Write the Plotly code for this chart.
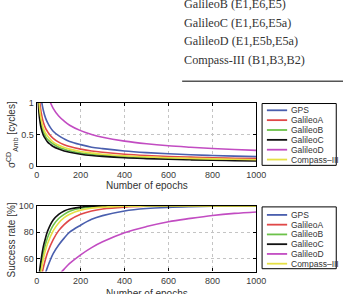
import plotly.graph_objects as go

W, H = 353, 294

names = ["GPS", "GalileoA", "GalileoB", "GalileoC", "GalileoD", "Compass\u2013III"]
colors = ["#4a5fae", "#e04848", "#6cc24a", "#111111", "#c24cc2", "#e6e045"]

# Top panel: ambiguity std (cycles) vs number of epochs
ep_sig = [5, 10, 15, 20, 30, 40, 50, 60, 75, 100, 125, 150, 200, 250, 300, 400, 500, 600, 700, 800, 900, 1000]
sig_gps = [2.15, 1.52, 1.24, 1.07, 0.88, 0.76, 0.68, 0.62, 0.55, 0.48, 0.43, 0.39, 0.34, 0.30, 0.277, 0.24, 0.215, 0.196, 0.181, 0.17, 0.16, 0.152]
sig_ga = [1.70, 1.20, 0.98, 0.85, 0.69, 0.60, 0.54, 0.49, 0.44, 0.38, 0.34, 0.31, 0.27, 0.24, 0.22, 0.19, 0.17, 0.155, 0.144, 0.134, 0.127, 0.12]
sig_gb = [1.34, 0.95, 0.77, 0.67, 0.55, 0.47, 0.42, 0.39, 0.35, 0.30, 0.27, 0.245, 0.21, 0.19, 0.173, 0.15, 0.134, 0.122, 0.113, 0.106, 0.10, 0.095]
sig_gc = [1.21, 0.85, 0.70, 0.60, 0.49, 0.43, 0.38, 0.35, 0.31, 0.27, 0.24, 0.22, 0.19, 0.17, 0.156, 0.135, 0.121, 0.110, 0.102, 0.095, 0.090, 0.085]
sig_gd = [3.53, 2.50, 2.04, 1.77, 1.44, 1.25, 1.12, 1.02, 0.91, 0.79, 0.71, 0.645, 0.56, 0.50, 0.456, 0.395, 0.353, 0.322, 0.299, 0.279, 0.263, 0.25]
sig_c3 = [1.48, 1.04, 0.85, 0.74, 0.60, 0.52, 0.47, 0.43, 0.38, 0.33, 0.295, 0.27, 0.233, 0.21, 0.19, 0.165, 0.148, 0.135, 0.125, 0.117, 0.11, 0.104]

# Bottom panel: success rate (%) vs number of epochs
ep_sr = [10, 15, 20, 30, 40, 50, 75, 100, 125, 150, 200, 250, 300, 400, 500, 600, 700, 800, 900, 1000]
sr_gps = [20, 30, 36, 44, 48.9, 53.8, 63.7, 70.3, 75.5, 80, 85.3, 89.8, 92.6, 96.2, 98, 98.9, 99.4, 99.7, 99.8, 99.9]
sr_ga = [30, 38, 44.4, 52.8, 59.4, 64.8, 74.4, 81.2, 85.8, 89.3, 93.7, 96.2, 97.7, 99.1, 99.7, 99.87, 99.95, 100, 100, 100]
sr_gb = [40, 48.4, 54.4, 63.8, 70.8, 76.2, 85.2, 90.4, 93.6, 95.9, 98.2, 99.1, 99.6, 99.9, 100, 100, 100, 100, 100, 100]
sr_gc = [44.4, 53, 59, 69, 75.5, 81, 89.3, 93.6, 96.2, 97.7, 99.1, 99.7, 99.86, 99.98, 100, 100, 100, 100, 100, 100]
sr_gd = [10, 15, 20, 26, 31, 35, 42, 47.3, 51.9, 56.2, 62.8, 68.3, 72.7, 79.6, 84.3, 88, 90.5, 92.7, 94.3, 95.4]
sr_c3 = [36, 44.4, 50.2, 59.4, 66.2, 71.6, 81, 87, 91, 93.7, 96.8, 98.3, 99.1, 99.76, 99.9, 100, 100, 100, 100, 100]

x_ticks = [0, 200, 400, 600, 800, 1000]
y1_ticks = [0, 0.5, 1]
y1_labels = ["0", "0.5", "1"]
y2_ticks = [60, 80, 100]

header_lines = ["GalileoB (E1,E6,E5)", "GalileoC (E1,E6,E5a)", "GalileoD (E1,E5b,E5a)", "Compass-III (B1,B3,B2)"]

def px(x):
    return x / W

def py(y):
    return 1 - y / H

SANS = "Liberation Sans"
fig = go.Figure()

sig_all = [sig_gps, sig_ga, sig_gb, sig_gc, sig_gd, sig_c3]
sr_all = [sr_gps, sr_ga, sr_gb, sr_gc, sr_gd, sr_c3]
for n, c, s in zip(names, colors, sig_all):
    fig.add_trace(go.Scatter(x=ep_sig, y=s, mode="lines", name=n, line=dict(color=c, width=1.6, shape="spline"),
                             xaxis="x", yaxis="y", showlegend=False))
for n, c, s in zip(names, colors, sr_all):
    fig.add_trace(go.Scatter(x=ep_sr, y=s, mode="lines", name=n, line=dict(color=c, width=1.6, shape="spline"),
                             xaxis="x2", yaxis="y2", showlegend=False))

axis_common = dict(showline=True, mirror="ticks", linecolor="black", linewidth=1.3, ticks="inside", ticklen=3,
                   tickcolor="black", showgrid=True, gridcolor="#c4c4c4", griddash="dot", gridwidth=1,
                   zeroline=False, tickfont=dict(family=SANS, size=9, color="#3a3a3a"), fixedrange=True)

fig.update_layout(
    width=W, height=H, margin=dict(l=0, r=0, t=0, b=0),
    paper_bgcolor="white", plot_bgcolor="white", showlegend=False,
    xaxis=dict(domain=[px(35), px(263)], anchor="y", range=[0, 1000], tickvals=x_ticks, **axis_common),
    yaxis=dict(domain=[py(167), py(101)], anchor="x", range=[0, 1], tickvals=y1_ticks, ticktext=y1_labels, **axis_common),
    xaxis2=dict(domain=[px(35), px(263)], anchor="y2", range=[0, 1000], tickvals=x_ticks, **axis_common),
    yaxis2=dict(domain=[py(276), py(208)], anchor="x2", range=[50, 100], tickvals=y2_ticks, **axis_common),
)

ann = []
shapes = []
# header text (table fragment)
for i, t in enumerate(header_lines):
    ann.append(dict(x=px(186), y=py(-1 + 19.2 * i), xref="paper", yref="paper", text=t, showarrow=False,
                    xanchor="left", yanchor="middle", font=dict(family="Liberation Serif", size=12.2, color="#333")))
shapes.append(dict(type="line", xref="paper", yref="paper", x0=px(186), x1=px(353), y0=py(79), y1=py(79),
                   line=dict(color="#555", width=1.4)))

# axis titles
ann.append(dict(x=px(9), y=py(134), xref="paper", yref="paper", text="\u03c3<sup>CD</sup><sub>Amb</sub> [cycles]",
                showarrow=False, textangle=-90, xanchor="center", yanchor="middle",
                font=dict(family=SANS, size=10, color="#333")))
ann.append(dict(x=px(9), y=py(243), xref="paper", yref="paper", text="Success rate [%]",
                showarrow=False, textangle=-90, xanchor="center", yanchor="middle",
                font=dict(family=SANS, size=10, color="#333")))
ann.append(dict(x=px(149), y=py(187), xref="paper", yref="paper", text="Number of epochs", showarrow=False,
                xanchor="center", yanchor="middle", font=dict(family=SANS, size=10, color="#333")))
ann.append(dict(x=px(149), y=py(299), xref="paper", yref="paper", text="Number of epochs", showarrow=False,
                xanchor="center", yanchor="middle", font=dict(family=SANS, size=10, color="#333")))

# manual legends
for (top, bot, y0, dy) in [(102, 166, 109, 10.2), (209, 273, 217.3, 10.1)]:
    shapes.append(dict(type="rect", xref="paper", yref="paper", x0=px(269), x1=px(346), y0=py(bot), y1=py(top),
                       line=dict(color="black", width=1), fillcolor="white"))
    for i, (n, c) in enumerate(zip(names, colors)):
        yy = y0 + dy * i
        shapes.append(dict(type="line", xref="paper", yref="paper", x0=px(274), x1=px(295), y0=py(yy), y1=py(yy),
                           line=dict(color=c, width=1.8)))
        ann.append(dict(x=px(296.5), y=py(yy), xref="paper", yref="paper", text=n, showarrow=False,
                        xanchor="left", yanchor="middle", font=dict(family=SANS, size=8.5, color="#333")))

fig.update_layout(annotations=ann, shapes=shapes)
fig.write_html("out.html", config={"displayModeBar": False})
